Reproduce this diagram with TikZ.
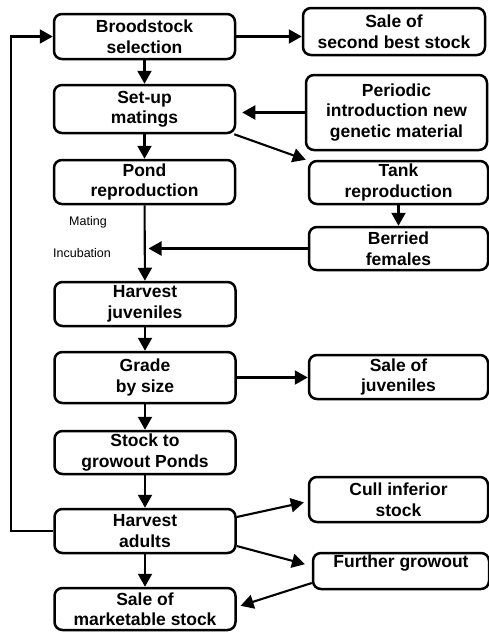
\documentclass[tikz,border=0pt]{standalone}
\usepackage{fontspec}
\setmainfont{Liberation Sans}
\usetikzlibrary{arrows.meta}
\begin{document}
\begin{tikzpicture}[x=1pt,y=-1pt,
  box/.style={draw,line width=2.5pt,rounded corners=8pt,align=center,
    font=\bfseries\fontsize{17.5}{20.5}\selectfont,inner sep=0pt,minimum width=181pt},
  arr/.style={line width=2.1pt,-{Triangle[length=13pt,width=14pt]}},
  lbl/.style={font=\fontsize{12.5}{14}\selectfont,anchor=west,inner sep=0pt}]
\useasboundingbox (0,0) rectangle (489,632);
% left column
\node[box,minimum height=45pt] (brood) at (144.5,36.5) {Broodstock\\selection};
\node[box,minimum height=48pt] (setup) at (144.5,109) {Set-up\\matings};
\node[box,minimum height=44pt] (pond) at (144.5,182) {Pond\\reproduction};
\node[box,minimum height=44pt] (harvj) at (145,304) {Harvest\\juveniles};
\node[box,minimum height=51pt] (grade) at (145,377.5) {Grade\\by size};
\node[box,minimum height=43pt] (stockg) at (145,452.5) {Stock to\\growout Ponds};
\node[box,minimum height=44pt] (harva) at (145,531) {Harvest\\adults};
\node[box,minimum height=42pt] (salem) at (145,609) {Sale of\\marketable stock};
% right column
\node[box,minimum width=182pt,minimum height=47pt] (sale2) at (394,31.5) {Sale of\\second best stock};
\node[box,minimum height=75pt] (period) at (396.5,112.5) {Periodic\\introduction new\\genetic material};
\node[box,minimum width=179pt,minimum height=43pt] (tank) at (398.5,182.5) {Tank\\reproduction};
\node[box,minimum width=179pt,minimum height=43pt] (berried) at (398.5,248.5) {Berried\\females};
\node[box,minimum width=179pt,minimum height=44pt] (salej) at (398.5,377) {Sale of\\juveniles};
\node[box,minimum width=179pt,minimum height=45pt] (cull) at (398.5,499.5) {Cull inferior\\stock};
\node[box,minimum width=176pt,minimum height=36pt] (further) at (401,571) {Further growout\\\mbox{}};
% labels
\node[lbl] (mating) at (69,222) {Mating};
\node[lbl] (incub) at (53,253) {Incubation};
% connectors
\draw[arr] (brood.east) -- (brood.east -| sale2.west);
\draw[arr] (brood) -- (setup);
\draw[arr,shorten >=6pt] (period.west) -- (period.west -| setup.east);
\draw[arr] ([xshift=-2pt]setup.south east) -- ([xshift=-2pt]tank.north west);
\draw[arr] (setup) -- (pond);
\draw[arr] (tank) -- (berried);
\draw[arr] (pond) -- (harvj);
\draw[arr,shorten >=4pt] (berried.west) -- (berried.west -| pond.south);
\draw[arr] (harvj) -- (grade);
\draw[arr] (grade) -- (stockg);
\draw[arr] (grade.east) -- (grade.east -| salej.west);
\draw[arr] (stockg) -- (harva);
\draw[arr] (harva) -- (salem);
\draw[arr,shorten >=4pt] ([yshift=14pt]harva.east) -- ([yshift=-2pt]cull.west);
\draw[arr,shorten >=7pt] ([yshift=-15pt]harva.east) -- ([yshift=5pt]further.west);
\draw[arr,shorten >=4pt] ([yshift=-12pt]further.west) -- ([yshift=2pt]salem.east);
\draw[arr] (harva.west) -- ++(-42,0) |- (brood.west);
\end{tikzpicture}
\end{document}
